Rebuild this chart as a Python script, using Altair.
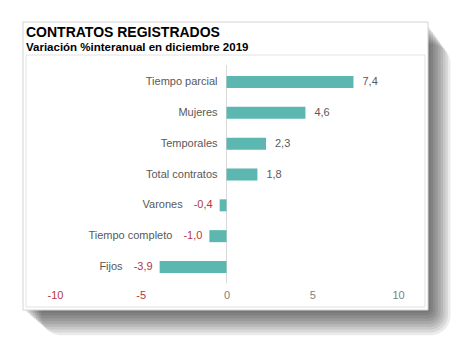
import altair as alt
import pandas as pd

categories = ["Tiempo parcial", "Mujeres", "Temporales", "Total contratos",
              "Varones", "Tiempo completo", "Fijos"]
values = [7.4, 4.6, 2.3, 1.8, -0.4, -1.0, -3.9]
x_ticks = [-10, -5, 0, 5, 10]

df = pd.DataFrame({"cat": categories, "v": values})

W, H = 399, 252
BAR = "#5BB7AF"
GRAY = "#595959"
RED = "#B0393F"
FONT = "Liberation Sans"

xscale = alt.Scale(domain=[-11.69, 11.57], nice=False, zero=False)
yscale = alt.Scale(domain=categories, range=[11.6, 227.4],
                   paddingInner=0.61, paddingOuter=0.305)

label_expr = "(datum.v < 0 ? '-' : '') + replace(format(abs(datum.v), '.1f'), '.', ',')"

base = alt.Chart(df).transform_calculate(lab=label_expr, zero="0")

# decorative card with shadow
one = alt.Data(values=[{}])
decor = []
for i in range(1, 10):
    decor.append(
        alt.Chart(one).mark_rect(color="black", opacity=0.08, cornerRadius=2 + i * 2).encode(
            x=alt.value(-3 + i * 2), x2=alt.value(402 + i * 2.5),
            y=alt.value(-31 + i * 2.2), y2=alt.value(255 + i * 2.8)))
card = alt.Chart(one).mark_rect(fill="white", stroke="#d4d4d4", strokeWidth=1).encode(
    x=alt.value(-3), x2=alt.value(402), y=alt.value(-33), y2=alt.value(255))
inner = alt.Chart(one).mark_rect(fill="white", stroke="#e2e2e2", strokeWidth=1).encode(
    x=alt.value(0), x2=alt.value(W), y=alt.value(0), y2=alt.value(H))

xaxis = alt.Axis(values=x_ticks, title=None, grid=False, ticks=False, domain=False,
                 labelExpr="'' + datum.value", labelFont=FONT, labelFontSize=11,
                 labelPadding=2, offset=-20, zindex=1,
                 labelColor={"condition": {"test": "datum.value < 0", "value": RED},
                             "value": "#808080"})

zero_line = alt.Chart(one).mark_rule(color="#dadada", strokeWidth=1).encode(
    x=alt.datum(0, scale=xscale, axis=xaxis), y=alt.value(10), y2=alt.value(228))

bars = base.mark_bar(color=BAR).encode(
    x=alt.X("v:Q", scale=xscale, axis=xaxis),
    x2=alt.datum(0),
    y=alt.Y("cat:N", scale=yscale, axis=None, sort=categories),
)

pos_vals = base.transform_filter("datum.v >= 0").mark_text(
    align="left", dx=9, font=FONT, fontSize=11, color=GRAY).encode(
    x=alt.X("v:Q", scale=xscale), y=alt.Y("cat:N", scale=yscale, sort=categories), text="lab:N")
neg_vals = base.transform_filter("datum.v < 0").mark_text(
    align="right", dx=-7, font=FONT, fontSize=11, color=RED).encode(
    x=alt.X("v:Q", scale=xscale), y=alt.Y("cat:N", scale=yscale, sort=categories), text="lab:N")

pos_cats = base.transform_filter("datum.v >= 0").mark_text(
    align="right", dx=-9, font=FONT, fontSize=11, color=GRAY).encode(
    x=alt.X("zero:Q", scale=xscale), y=alt.Y("cat:N", scale=yscale, sort=categories), text="cat:N")
neg_cats = base.transform_filter("datum.v < 0").mark_text(
    align="right", dx=-37, font=FONT, fontSize=11, color=GRAY).encode(
    x=alt.X("v:Q", scale=xscale), y=alt.Y("cat:N", scale=yscale, sort=categories), text="cat:N")

chart = alt.layer(*decor, card, inner, zero_line, bars, pos_vals, neg_vals, pos_cats, neg_cats).properties(
    width=W, height=H,
    title=alt.TitleParams(
        text="CONTRATOS REGISTRADOS",
        subtitle="Variación %interanual en diciembre 2019",
        anchor="start", frame="group", font=FONT, fontSize=14, fontWeight="bold", color="black",
        subtitleFont=FONT, subtitleFontSize=11.5, subtitleFontWeight="bold", subtitleColor="black",
        offset=-32, subtitlePadding=2),
    autosize=alt.AutoSizeParams(type="none"),
    padding={"left": 18, "top": 47, "right": 38, "bottom": 40},
    background="white",
).configure_view(stroke=None)

chart.save("out.html", embed_options={"renderer": "svg", "actions": False})
